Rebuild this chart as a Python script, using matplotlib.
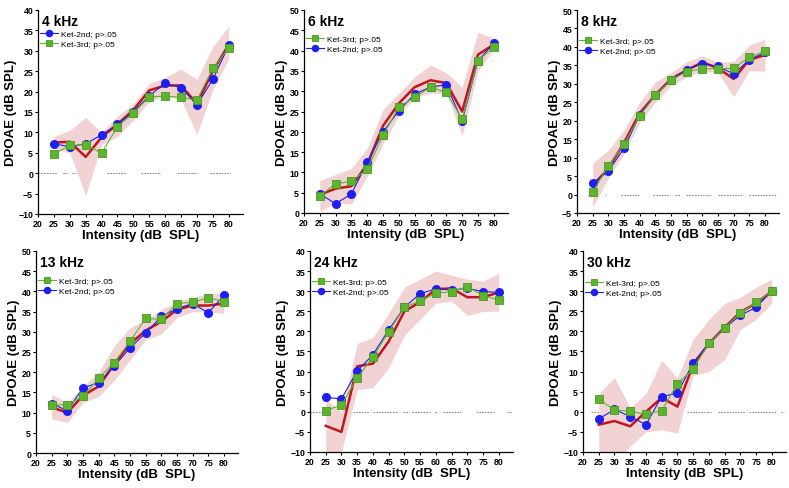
import matplotlib
matplotlib.use("Agg")
import matplotlib.pyplot as plt
import numpy as np

plt.rcParams['font.family'] = ['Liberation Sans', 'DejaVu Sans']

intensity = [25, 30, 35, 40, 45, 50, 55, 60, 65, 70, 75, 80]
x_ticks = [20, 25, 30, 35, 40, 45, 50, 55, 60, 65, 70, 75, 80]

titles = ["4 kHz", "6 kHz", "8 kHz", "13 kHz", "24 kHz", "30 kHz"]

# Ket-2nd (blue circles)
ket2_4k = [7.2, 6.5, 7.2, 9.4, 12.0, 15.0, 19.0, 22.0, 21.0, 16.7, 23.0, 31.3]
ket2_6k = [4.7, 2.3, 4.7, 12.5, 20.0, 25.2, 29.3, 31.0, 31.6, 22.6, 37.5, 41.8]
ket2_8k = [3.0, 6.3, 12.5, 21.5, 27.0, 31.0, 33.8, 35.5, 34.7, 32.7, 36.5, 38.5]
ket2_13k = [12.2, 10.5, 16.1, 17.4, 21.5, 26.0, 29.7, 33.8, 35.7, 37.0, 34.7, 39.0]
ket2_24k = [3.6, 3.2, 10.2, 14.2, 20.4, 26.0, 29.4, 30.6, 30.3, 30.7, 29.9, 29.7]
ket2_30k = [-1.8, 0.6, -1.2, -3.2, 3.8, 4.6, 12.2, 17.0, 20.8, 24.0, 26.0, 30.0]

# Ket-3rd (green squares)
ket3_4k = [4.7, 6.8, 7.0, 4.9, 11.4, 14.7, 18.7, 18.9, 18.6, 17.9, 25.7, 30.7]
ket3_6k = [4.2, 7.2, 7.8, 10.8, 19.2, 26.1, 28.5, 31.0, 29.7, 23.1, 37.5, 40.9]
ket3_8k = [0.6, 7.8, 13.6, 21.3, 26.9, 31.0, 33.3, 34.1, 34.1, 34.2, 37.2, 38.8]
ket3_13k = [11.8, 12.0, 14.0, 18.5, 22.4, 27.6, 33.3, 33.1, 37.0, 37.3, 38.4, 37.5]
ket3_24k = [0.3, 1.7, 8.4, 13.6, 19.9, 26.0, 27.6, 29.5, 29.9, 31.1, 28.9, 27.8]
ket3_30k = [3.1, 0.5, 0.1, -0.6, 0.3, 7.0, 10.6, 17.1, 20.8, 24.6, 27.2, 30.0]

# Baseline mean (red line)
base_4k = [7.5, 7.7, 4.0, 8.8, 12.0, 15.5, 20.3, 21.5, 21.5, 17.0, 25.0, 31.5]
base_6k = [4.5, 6.0, 6.6, 12.0, 21.5, 27.0, 31.0, 32.7, 32.0, 25.0, 39.0, 41.5]
base_8k = [2.5, 7.0, 14.0, 22.0, 27.0, 31.3, 33.7, 35.8, 34.3, 31.3, 36.5, 37.8]
base_13k = [11.3, 10.0, 14.2, 16.5, 22.0, 27.0, 30.3, 32.5, 35.5, 36.5, 36.5, 37.0]
base_24k = [-3.5, -5.0, 11.3, 12.0, 17.5, 25.0, 27.3, 30.5, 30.7, 28.5, 28.5, 29.7]
base_30k = [-3.2, -2.3, -3.6, 0.0, 3.5, 1.3, 11.7, 17.0, 21.0, 24.8, 27.0, 30.0]

# Baseline band (lower / upper)
low_4k = [6.0, 5.0, -5.5, 7.0, 9.0, 13.0, 17.5, 19.0, 18.0, 9.5, 20.5, 28.0]
up_4k = [9.0, 10.5, 13.7, 10.0, 14.0, 17.0, 22.0, 23.5, 25.5, 23.0, 31.0, 36.0]
low_6k = [0.5, 2.5, 2.2, 9.0, 17.0, 24.0, 28.5, 29.5, 29.5, 19.0, 35.0, 40.5]
up_6k = [8.0, 9.5, 11.0, 16.0, 25.5, 29.5, 33.5, 36.5, 34.5, 31.0, 44.5, 43.0]
low_8k = [-3.5, 4.5, 11.0, 19.5, 25.0, 29.5, 31.8, 33.5, 33.0, 26.5, 33.5, 33.5]
up_8k = [8.5, 12.0, 17.5, 25.0, 30.5, 33.0, 36.0, 37.5, 36.0, 36.0, 40.5, 42.0]
low_13k = [8.5, 7.5, 12.5, 14.0, 18.0, 23.0, 28.0, 29.5, 33.5, 35.0, 35.0, 34.5]
up_13k = [14.5, 12.5, 16.5, 20.0, 26.5, 31.0, 33.0, 35.5, 37.5, 38.5, 39.5, 39.5]
low_24k = [-10.0, -10.0, 5.5, 6.0, 11.0, 19.0, 23.0, 27.0, 27.5, 24.0, 25.0, 25.0]
up_24k = [3.0, 0.0, 17.0, 18.5, 24.5, 31.0, 33.0, 35.0, 34.0, 33.0, 32.5, 34.5]
low_30k = [-9.5, -13.0, -8.5, -5.0, -4.5, -5.3, 9.0, 10.0, 13.0, 20.5, 23.0, 27.0]
up_30k = [4.5, 8.5, 1.0, 4.5, 12.8, 8.5, 18.0, 23.0, 27.0, 28.5, 31.0, 33.0]

# Segments of the dotted zero line (start, end in dB SPL)
zero_4k = [(20, 26), (27.8, 29.2), (30.7, 31.8), (41.8, 47.6), (52.3, 58.6), (63.6, 69.9), (74.1, 80.4)]
zero_6k = []
zero_8k = [(23.4, 25), (29.0, 29.4), (34, 39.8), (44.3, 49.8), (51.4, 53), (54.8, 60.4), (61, 62.9), (64.9, 73.1), (74.9, 83.7)]
zero_13k = []
zero_24k = [(20, 24.7), (33.6, 38.3), (40.1, 47.7), (49.7, 51.3), (52.4, 58.1), (59.7, 60.5), (62.3, 68), (72.7, 78.4), (82.6, 83.9)]
zero_30k = [(22.4, 24.7), (52.9, 58.9), (59.3, 60.8), (62.9, 71), (72.8, 81.3), (82.9, 83.9)]

ylims = [(-10, 40), (0, 50), (-5, 50), (0, 50), (-10, 40), (-10, 40)]
legend_first_blue = [True, False, False, False, False, False]

ket2 = [ket2_4k, ket2_6k, ket2_8k, ket2_13k, ket2_24k, ket2_30k]
ket3 = [ket3_4k, ket3_6k, ket3_8k, ket3_13k, ket3_24k, ket3_30k]
base = [base_4k, base_6k, base_8k, base_13k, base_24k, base_30k]
lows = [low_4k, low_6k, low_8k, low_13k, low_24k, low_30k]
ups = [up_4k, up_6k, up_8k, up_13k, up_24k, up_30k]
zeros = [zero_4k, zero_6k, zero_8k, zero_13k, zero_24k, zero_30k]

# axes rectangles in figure fraction
W, H = 789, 489
px_boxes = [(38, 11, 243, 215), (304, 11, 508, 214), (577, 11, 779, 214),
            (36, 252, 238, 454), (310, 252, 513, 453), (583, 252, 786, 453)]
legend_y = [0.91, 0.885, 0.875, 0.88, 0.875, 0.87]

BLUE = '#1f1ff0'
GREEN = '#5db52f'
GREEN_EDGE = '#4a9a22'
RED = '#c0161f'
SHADE = '#f1d3d3'

fig = plt.figure(figsize=(W / 100, H / 100), dpi=100)

for i in range(6):
    l, t, r, b = px_boxes[i]
    ax = fig.add_axes([l / W, 1 - b / H, (r - l) / W, (b - t) / H])
    ax.fill_between(intensity, lows[i], ups[i], color=SHADE, lw=0, zorder=1)
    for (s, e) in zeros[i]:
        ax.plot([s, e], [0, 0], color='#8a8a8a', lw=0.8, ls=(0, (1.5, 1)), zorder=1.5)
    ax.plot(intensity, base[i], color=RED, lw=1.8, zorder=2)
    hb, = ax.plot(intensity, ket2[i], color=BLUE, lw=0.8, marker='o', ms=5.5,
                  mfc=BLUE, mec=BLUE, zorder=3, label='Ket-2nd; p>.05')
    hg, = ax.plot(intensity, ket3[i], color=GREEN, lw=0.8, marker='s', ms=6,
                  mfc=GREEN, mec=GREEN_EDGE, mew=0.6, zorder=3, label='Ket-3rd; p>.05')
    handles = [hb, hg] if legend_first_blue[i] else [hg, hb]
    ax.legend(handles=handles, loc='upper left', bbox_to_anchor=(0.0, legend_y[i]),
              frameon=False, fontsize=6, handlelength=2.2, handletextpad=0.4,
              labelspacing=0.3, borderaxespad=0.0, borderpad=0.2, markerscale=0.8)
    ax.text(0.02, 0.925, titles[i], transform=ax.transAxes, fontsize=10,
            fontweight='bold', va='baseline', ha='left')

    ax.set_xlim(20, 84.5)
    ax.set_ylim(*ylims[i])
    ax.set_xticks(x_ticks)
    ax.set_yticks(np.arange(ylims[i][0], ylims[i][1] + 1, 5))
    ax.tick_params(labelsize=6.3, length=2.5, width=0.8, pad=1)
    for lab in ax.get_xticklabels() + ax.get_yticklabels():
        lab.set_fontweight('bold')
    ax.spines['top'].set_visible(False)
    ax.spines['right'].set_visible(False)
    for sp in ['left', 'bottom']:
        ax.spines[sp].set_linewidth(0.9)
    ax.set_xlabel('Intensity (dB  SPL)', fontsize=9.5, fontweight='bold', labelpad=1)
    ax.set_ylabel('DPOAE (dB SPL)', fontsize=9.5, fontweight='bold', labelpad=1)

fig.savefig('out.png', dpi=100, facecolor='white')
